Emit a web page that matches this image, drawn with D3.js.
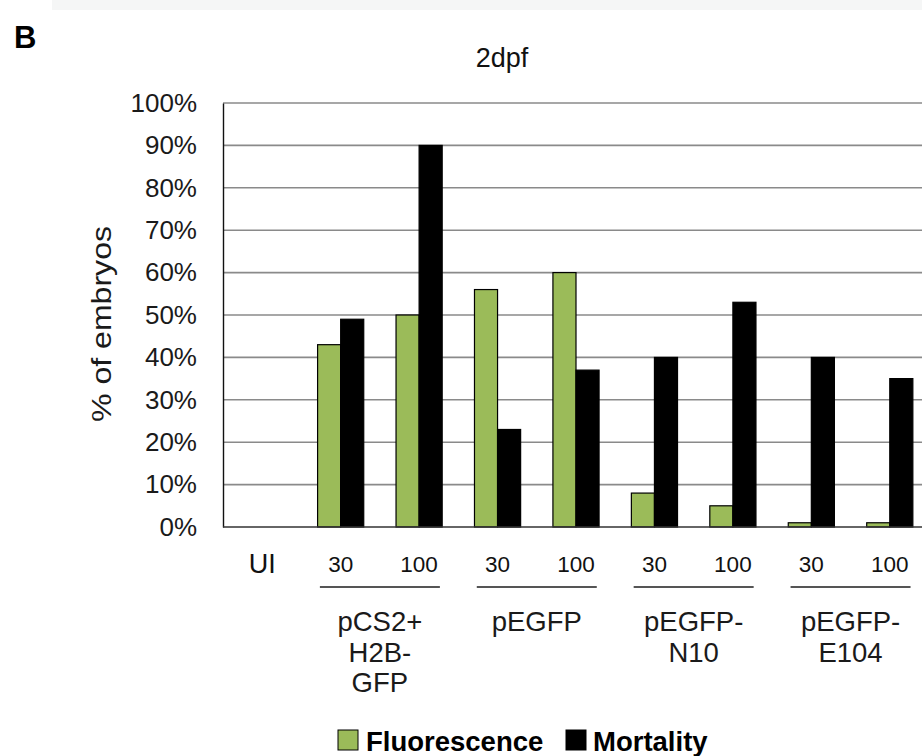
<!DOCTYPE html>
<html>
<head>
<meta charset="utf-8">
<script src="https://cdn.jsdelivr.net/npm/d3@7"></script>
<style>
  html, body { margin: 0; padding: 0; background: #fff; overflow: hidden; }
  svg { display: block; font-family: "Liberation Sans", Arial, Helvetica, sans-serif; }
</style>
</head>
<body>
<svg id="chart" width="922" height="756"></svg>
<script>
// ---- data ----
const categories = ["UI", "H2B-30", "H2B-100", "pEGFP-30", "pEGFP-100", "N10-30", "N10-100", "E104-30", "E104-100"];
const tickLabels = ["UI", "30", "100", "30", "100", "30", "100", "30", "100"];
const fluorescence = [0, 43, 50, 56, 60, 8, 5, 1, 1];
const mortality = [0, 49, 90, 23, 37, 40, 53, 40, 35];
const seriesNames = ["Fluorescence", "Mortality"];
const seriesColors = ["#9bbb59", "#000000"];
const groupLabels = [["pCS2+", "H2B-", "GFP"], ["pEGFP"], ["pEGFP-", "N10"], ["pEGFP-", "E104"]];
const groupMembers = [["H2B-30", "H2B-100"], ["pEGFP-30", "pEGFP-100"], ["N10-30", "N10-100"], ["E104-30", "E104-100"]];
const yTicks = [0, 10, 20, 30, 40, 50, 60, 70, 80, 90, 100];
const title = "2dpf";
const yTitle = "% of embryos";
const panelLetter = "B";

// ---- layout ----
const svg = d3.select("#chart");
const plot = { left: 223, right: 929, top: 103, bottom: 527 };

const x = d3.scaleBand().domain(categories).range([plot.left, plot.right]).paddingInner(0).paddingOuter(0);
const xs = d3.scaleBand().domain(seriesNames).range([0, x.bandwidth()]).paddingInner(0).paddingOuter(0.7);
const y = d3.scaleLinear().domain([0, 100]).range([plot.bottom, plot.top]);

// faint top band
svg.append("rect").attr("x", 52).attr("y", 0).attr("width", 870).attr("height", 10).attr("fill", "#f5f6f6");

// panel letter
svg.append("text").attr("x", 14).attr("y", 48).attr("font-size", 31).attr("font-weight", "bold").text(panelLetter);

// title
svg.append("text").attr("x", 502).attr("y", 67).attr("text-anchor", "middle").attr("font-size", 27).attr("fill", "#111").text(title);

// gridlines
svg.append("g").selectAll("line").data(yTicks.filter(d => d > 0)).join("line")
  .attr("x1", plot.left).attr("x2", 922)
  .attr("y1", d => y(d)).attr("y2", d => y(d))
  .attr("stroke", "#8a8a8a").attr("stroke-width", 1.6);

// y axis via d3
const yAxis = d3.axisLeft(y).tickValues(yTicks).tickSize(0).tickPadding(26).tickFormat(d => d + "%");
const gy = svg.append("g").attr("transform", `translate(${plot.left},0)`).call(yAxis);
gy.select(".domain").attr("stroke", "#111").attr("stroke-width", 1.4);
gy.selectAll("text").attr("font-size", 26).attr("fill", "#1a1a1a").attr("font-family", "Liberation Sans, Arial, sans-serif");

// bars
const series = [fluorescence, mortality];
const barG = svg.append("g");
series.forEach((vals, si) => {
  barG.append("g").selectAll("rect")
    .data(categories.map((c, i) => ({ c, v: vals[i] })).filter(d => d.v > 0))
    .join("rect")
    .attr("x", d => x(d.c) + xs(seriesNames[si]))
    .attr("width", xs.bandwidth())
    .attr("y", d => y(d.v))
    .attr("height", d => y(0) - y(d.v))
    .attr("fill", seriesColors[si])
    .attr("stroke", "#000").attr("stroke-width", 1.2);
});

// baseline
svg.append("line").attr("x1", plot.left).attr("x2", 922).attr("y1", y(0)).attr("y2", y(0))
  .attr("stroke", "#333").attr("stroke-width", 1.5);

// x tick labels
svg.append("g").selectAll("text").data(categories).join("text")
  .attr("x", d => x(d) + x.bandwidth() / 2)
  .attr("y", (d, i) => i === 0 ? 573 : 572)
  .attr("text-anchor", "middle")
  .attr("font-size", (d, i) => i === 0 ? 27 : 22.5)
  .attr("fill", "#111")
  .text((d, i) => tickLabels[i]);

// group underlines + labels
groupMembers.forEach((m, gi) => {
  const cx = (x(m[0]) + x(m[1]) + x.bandwidth()) / 2;
  svg.append("line").attr("x1", cx - 60).attr("x2", cx + 60).attr("y1", 587).attr("y2", 587)
    .attr("stroke", "#555").attr("stroke-width", 2);
  const t = svg.append("text").attr("text-anchor", "middle").attr("font-size", 27.5).attr("fill", "#1a1a1a");
  groupLabels[gi].forEach((line, li) => {
    t.append("tspan").attr("x", cx).attr("y", 631 + li * 30.5).text(line);
  });
});

// y title
svg.append("text").attr("transform", "translate(111,324) rotate(-90)")
  .attr("text-anchor", "middle").attr("font-size", 28).attr("fill", "#1a1a1a")
  .attr("textLength", 196).attr("lengthAdjust", "spacingAndGlyphs").text(yTitle);

// legend
const legend = [{ name: seriesNames[0], color: seriesColors[0], x: 338, tx: 366 }, { name: seriesNames[1], color: seriesColors[1], x: 566, tx: 593 }];
legend.forEach(l => {
  svg.append("rect").attr("x", l.x).attr("y", 730).attr("width", 20).attr("height", 20)
    .attr("fill", l.color).attr("stroke", "#000").attr("stroke-width", 1);
  svg.append("text").attr("x", l.tx).attr("y", 751).attr("font-size", 27.5).attr("font-weight", "bold").attr("fill", "#000").text(l.name);
});
</script>
</body>
</html>
